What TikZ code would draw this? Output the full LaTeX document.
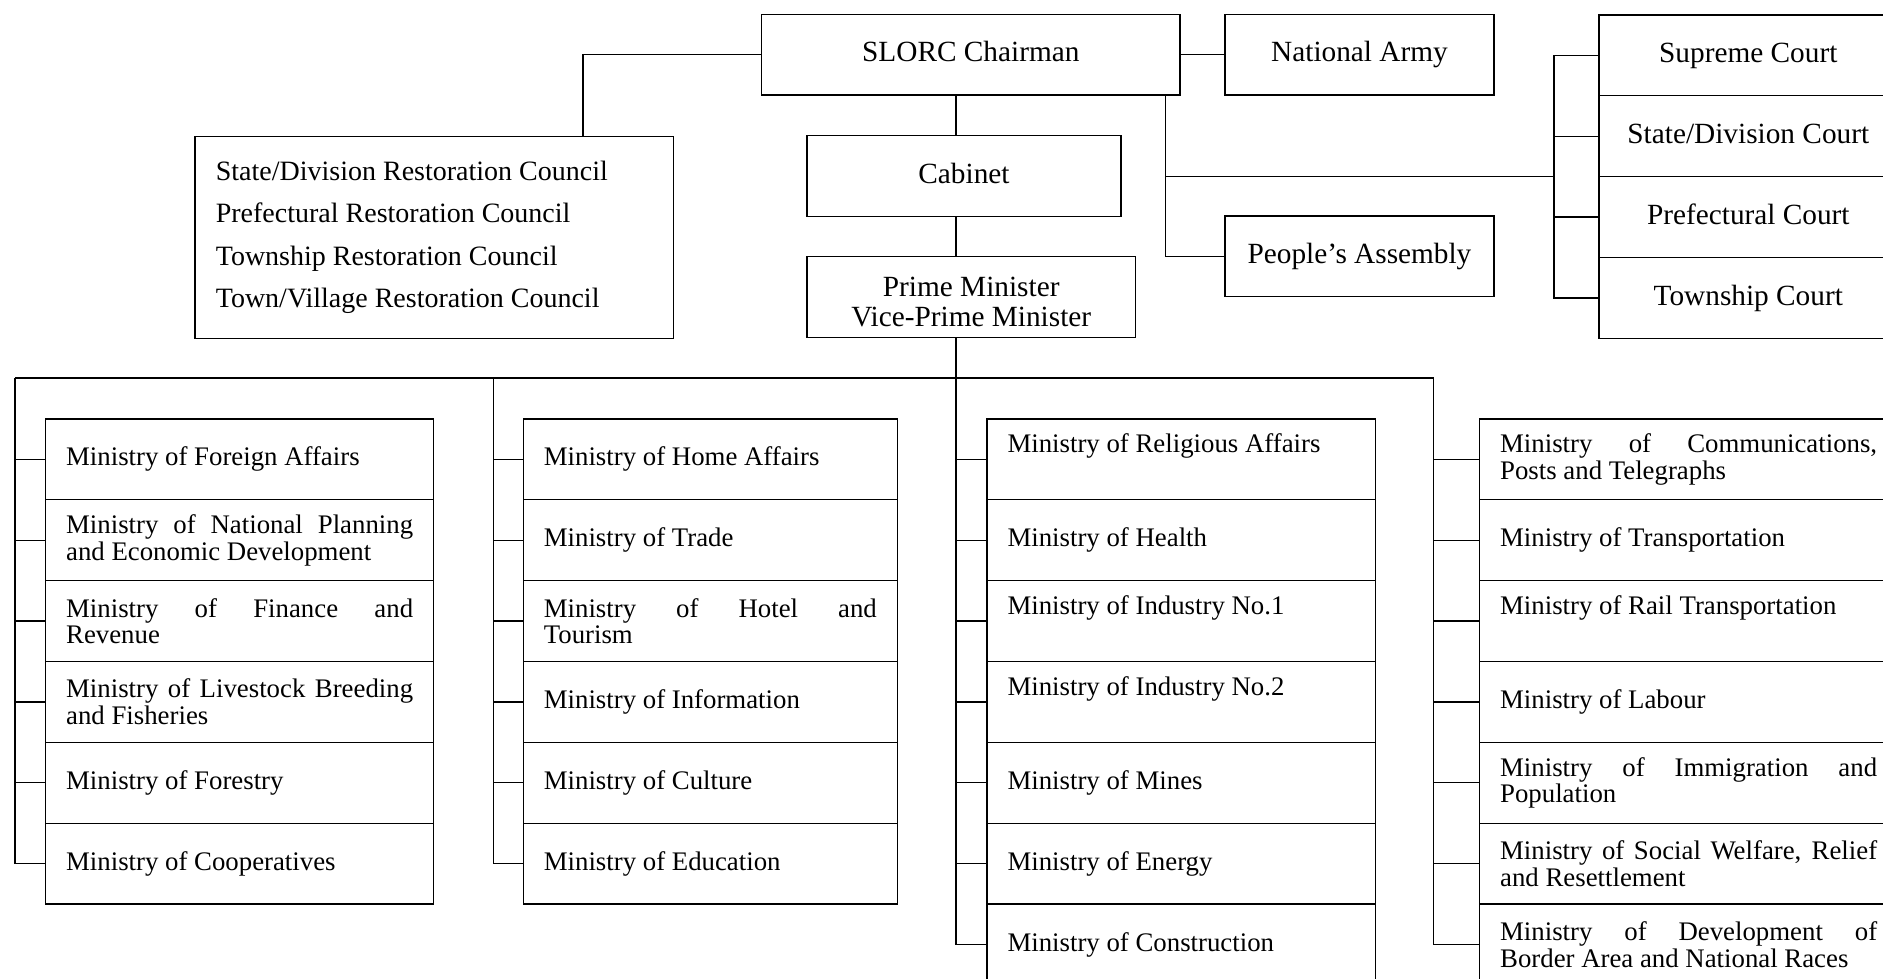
\documentclass[tikz,border=0pt]{standalone}
\usepackage{fontspec}
\setmainfont{Liberation Serif}
\usetikzlibrary{positioning,calc}

\newcommand{\spread}[1]{{\spaceskip=0pt\xspaceskip=0pt\makebox[\hsize][s]{#1}}}

\begin{document}
\begin{tikzpicture}
                    [x=1pt,y=-1pt,line width=1.3pt,
                     box/.style={draw,rectangle,inner sep=0pt,font=\fontsize{29.3}{31}\selectfont,text height=20.5pt,text depth=5.9pt},
                     court/.style={box,anchor=north west,minimum width=298.7pt,minimum height=80.85pt},
                     plain/.style={align=left,execute at begin node={\spaceskip=0pt\xspaceskip=0pt}},
                     mini/.style={draw,rectangle,plain,anchor=north west,minimum height=80.85pt,inner xsep=20.5pt,inner ysep=0pt,font=\fontsize{26.8}{26.7}\selectfont}]

                    \useasboundingbox (0,0) rectangle (1883,978);
                    \clip (0,0) rectangle (1883,978);

                    \node[box,minimum width=418.4pt,minimum height=80.7pt] (slorc) at (970.8,54.65) {SLORC Chairman};
                    \node[box,minimum width=269pt,minimum height=80.7pt] (army) at (1359.5,54.65) {National Army};
                    \node[box,minimum width=314pt,minimum height=81pt] (cabinet) at (964,176.2) {Cabinet};
                    \node[box,minimum width=328.4pt,minimum height=80.8pt] (pm) at (971.2,297.1) {};
                    \node[inner sep=0pt,align=center,font=\fontsize{29.3}{30.7}\selectfont] (pmtext) at (971.2,301.9) {Prime Minister\\Vice-Prime Minister};
                    \node[box,minimum width=269pt,minimum height=80.7pt] (assembly) at (1359.5,256.4) {People’s Assembly};
                    \node[draw,plain,anchor=north west,minimum height=202pt,inner xsep=21pt,inner ysep=0pt,text width=436.3pt,font=\fontsize{28}{42.2}\selectfont] (council) at (194.2,135.7)
                        {State/Division Restoration Council\\Prefectural Restoration Council\\Township Restoration Council\\Town/Village Restoration Council};

                    \foreach \name [count=\i] in {Supreme Court,State/Division Court,Prefectural Court,Township Court}
                        \node[court] (c\i) at (1598.3,{14.3+80.85*(\i-1)}) {\name};

                    \coordinate (councilx) at (583,0);
                    \coordinate (jx) at (1165.4,0);
                    \coordinate (cx) at (1554,0);
                    \coordinate (b1) at (15,378);
                    \coordinate (b2) at (493.3,378);
                    \coordinate (b3) at (956,378);
                    \coordinate (b4) at (1433.5,378);

                    \draw (slorc.west) -| (councilx |- council.north);
                    \draw (slorc.east) -- (army.west);
                    \draw (slorc.south -| b3) -- (cabinet.north -| b3);
                    \draw (cabinet.south -| b3) -- (pm.north -| b3);
                    \draw (slorc.south -| jx) |- (assembly.west);
                    \draw (jx |- cabinet) -- (cx |- cabinet);
                    \draw (c1.west) -| (cx |- c4.west) -- (c4.west);
                    \draw (cx |- c2.west) -- (c2.west);
                    \draw (cx |- c3.west) -- (c3.west);

                    \draw (pm.south -| b3) -- (b3);
                    \draw (b1) -- (b4);

                    \foreach \txt [count=\i from 0] in {{Ministry of Foreign Affairs},
                        {\spread{Ministry of National Planning}\\and Economic Development},
                        {\spread{Ministry of Finance and}\\Revenue},
                        {\spread{Ministry of Livestock Breeding}\\and Fisheries},
                        {Ministry of Forestry},{Ministry of Cooperatives}}{
                        \node[mini,text width=347pt] (m1-\i) at (45,{418.3+80.85*\i}) {\txt};
                        \draw (m1-\i.west) -- (m1-\i.west -| b1);
                    }
                    \foreach \txt [count=\i from 0] in {{Ministry of Home Affairs},{Ministry of Trade},
                        {\spread{Ministry of Hotel and}\\Tourism},
                        {Ministry of Information},{Ministry of Culture},{Ministry of Education}}{
                        \node[mini,text width=333pt] (m2-\i) at (522.7,{418.3+80.85*\i}) {\txt};
                        \draw (m2-\i.west) -- (m2-\i.west -| b2);
                    }
                    \foreach \txt [count=\i from 0] in {{Ministry of Religious Affairs\\\phantom{y}},{Ministry of Health},
                        {Ministry of Industry No.1\\\phantom{y}},{Ministry of Industry No.2\\\phantom{y}},
                        {Ministry of Mines},{Ministry of Energy},{Ministry of Construction}}{
                        \node[mini,text width=347.2pt] (m3-\i) at (986.4,{418.3+80.85*\i}) {\txt};
                        \draw (m3-\i.west) -- (m3-\i.west -| b3);
                    }
                    \foreach \txt [count=\i from 0] in {{\spread{Ministry of Communications,}\\Posts and Telegraphs},
                        {Ministry of Transportation},{Ministry of Rail Transportation\\\phantom{y}},{Ministry of Labour},
                        {\spread{Ministry of Immigration and}\\Population},
                        {\spread{Ministry of Social Welfare, Relief}\\and Resettlement},
                        {\spread{Ministry of Development of}\\Border Area and National Races}}{
                        \node[mini,text width=377pt] (m4-\i) at (1479,{418.3+80.85*\i}) {\txt};
                        \draw (m4-\i.west) -- (m4-\i.west -| b4);
                    }

                    \draw (b1) |- (m1-5.west);
                    \draw (b2) |- (m2-5.west);
                    \draw (b3) |- (m3-6.west);
                    \draw (b4) |- (m4-6.west);
                \end{tikzpicture}
\end{document}
